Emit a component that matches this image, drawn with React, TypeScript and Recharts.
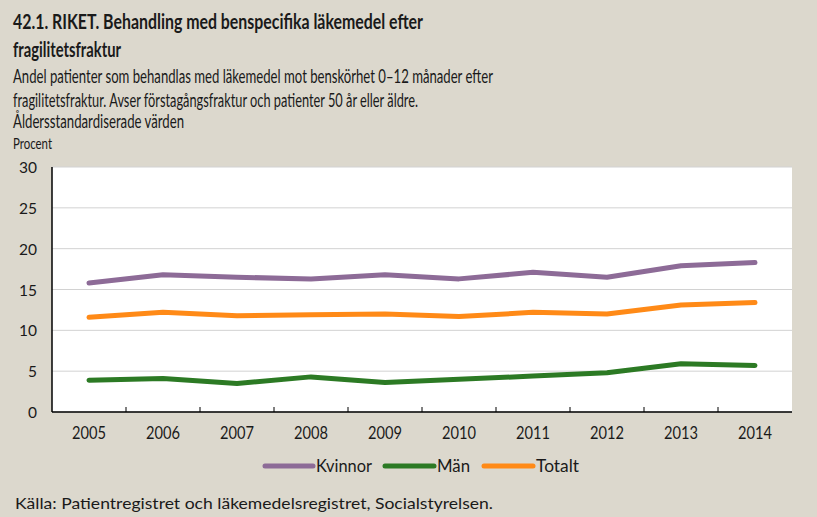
import { LineChart, Line, XAxis, YAxis, CartesianGrid } from 'recharts';

document.body.style.margin = '0';

const years = ['2005', '2006', '2007', '2008', '2009', '2010', '2011', '2012', '2013', '2014'];
const kvinnor = [15.8, 16.8, 16.5, 16.3, 16.8, 16.3, 17.1, 16.5, 17.9, 18.3];
const man = [3.9, 4.1, 3.5, 4.3, 3.6, 4.0, 4.4, 4.8, 5.9, 5.7];
const totalt = [11.6, 12.2, 11.8, 11.9, 12.0, 11.7, 12.2, 12.0, 13.1, 13.4];
const yTicks = [0, 5, 10, 15, 20, 25, 30];

const series = [
  { key: 'kvinnor', label: 'Kvinnor', color: '#8d6b97' },
  { key: 'man', label: 'Män', color: '#2c7a24' },
  { key: 'totalt', label: 'Totalt', color: '#ff8a17' },
];

const data = years.map((year, i) => ({ year, kvinnor: kvinnor[i], man: man[i], totalt: totalt[i] }));

const W = 817;
const H = 517;
const MARGIN = { top: 167, right: 25, bottom: 75, left: 0 };
const Y_W = 52;
const HALF_BAND = (W - MARGIN.right - MARGIN.left - Y_W) / years.length / 2;

const FONT = 'Lato, "DejaVu Sans", sans-serif';
const TEXT = '#1a1a1a';

// year label plus the small inward tick mark at the right band edge
function YearTick({ x, y, payload, index }: any) {
  const last = index === years.length - 1;
  return (
    <g>
      {!last && (
        <line x1={x + HALF_BAND} x2={x + HALF_BAND} y1={y} y2={y - 5} stroke="#000" strokeWidth={1} />
      )}
      <text x={x} y={y} dy={27} textAnchor="middle" fontSize={16.5} fontFamily={FONT} fill={TEXT}
        textLength={34} lengthAdjust="spacingAndGlyphs">
        {payload.value}
      </text>
    </g>
  );
}

function ValueTick({ y, payload }: any) {
  const s = String(payload.value);
  return (
    <text x={37} y={y} dy={6} textAnchor="end" fontSize={15.5} fontFamily={FONT} fill={TEXT}
      textLength={s.length * 9} lengthAdjust="spacingAndGlyphs">
      {s}
    </text>
  );
}

// legend layout: swatch start, swatch end, text width
const legendPos = [
  { x1: 265, x2: 313, w: 56 },
  { x1: 385, x2: 434, w: 33 },
  { x1: 484, x2: 533, w: 43 },
];

export default function App() {
  return (
    <div style={{ position: 'relative', width: W, height: H, background: '#dcd8cd', overflow: 'hidden' }}>
      <div style={{ position: 'absolute', left: 0, top: 0 }}>
        <LineChart width={W} height={H} data={data} margin={MARGIN}>
          <CartesianGrid xAxisId="yr" yAxisId="l" vertical={false} stroke="#d2d2d2" fill="#ffffff" />
          <XAxis xAxisId="yr" dataKey="year" scale="band" tickLine={false} tickSize={0} tickMargin={0}
            axisLine={{ stroke: '#000', strokeWidth: 1.5 }} height={30} tick={<YearTick />} interval={0} />
          <XAxis xAxisId="top" orientation="top" dataKey="year" scale="band" tick={false} tickLine={false}
            axisLine={{ stroke: '#000', strokeWidth: 1.5 }} height={0} />
          <YAxis yAxisId="l" domain={[0, 30]} ticks={yTicks} width={Y_W} tickLine={false} tickSize={0}
            axisLine={{ stroke: '#000', strokeWidth: 1.5 }} tick={<ValueTick />} />
          <YAxis yAxisId="r" orientation="right" domain={[0, 30]} width={0} tick={false} tickLine={false}
            axisLine={{ stroke: '#000', strokeWidth: 1.5 }} />
          {series.map((s) => (
            <Line key={s.key} xAxisId="yr" yAxisId="l" type="linear" dataKey={s.key} stroke={s.color}
              strokeWidth={5} strokeLinecap="round" strokeLinejoin="round" dot={false} isAnimationActive={false} />
          ))}
        </LineChart>
      </div>
      <svg width={W} height={H} style={{ position: 'absolute', left: 0, top: 0, pointerEvents: 'none' }}>
        <g fontFamily={FONT} fill={TEXT}>
          <text x={13} y={29} fontSize={21.5} fontWeight={700} textLength={410} lengthAdjust="spacingAndGlyphs">
            42.1. RIKET. Behandling med benspecifika läkemedel efter
          </text>
          <text x={13} y={57} fontSize={21.5} fontWeight={700} textLength={108} lengthAdjust="spacingAndGlyphs">
            fragilitetsfraktur
          </text>
          <text x={13} y={83} fontSize={18.5} textLength={480} lengthAdjust="spacingAndGlyphs">
            Andel patienter som behandlas med läkemedel mot benskörhet 0–12 månader efter
          </text>
          <text x={13} y={107} fontSize={18.5} textLength={405} lengthAdjust="spacingAndGlyphs">
            fragilitetsfraktur. Avser förstagångsfraktur och patienter 50 år eller äldre.
          </text>
          <text x={13} y={128} fontSize={18.5} textLength={171} lengthAdjust="spacingAndGlyphs">
            Åldersstandardiserade värden
          </text>
          <text x={13} y={149} fontSize={14.5} textLength={39} lengthAdjust="spacingAndGlyphs">
            Procent
          </text>
          {series.map((s, i) => (
            <g key={s.key}>
              <line x1={legendPos[i].x1} x2={legendPos[i].x2} y1={466} y2={466} stroke={s.color}
                strokeWidth={5} strokeLinecap="round" />
              <text x={legendPos[i].x2 + 3} y={472} fontSize={17} textLength={legendPos[i].w}
                lengthAdjust="spacingAndGlyphs">
                {s.label}
              </text>
            </g>
          ))}
          <text x={15} y={509} fontSize={16} textLength={478} lengthAdjust="spacingAndGlyphs">
            Källa: Patientregistret och läkemedelsregistret, Socialstyrelsen.
          </text>
        </g>
      </svg>
    </div>
  );
}
